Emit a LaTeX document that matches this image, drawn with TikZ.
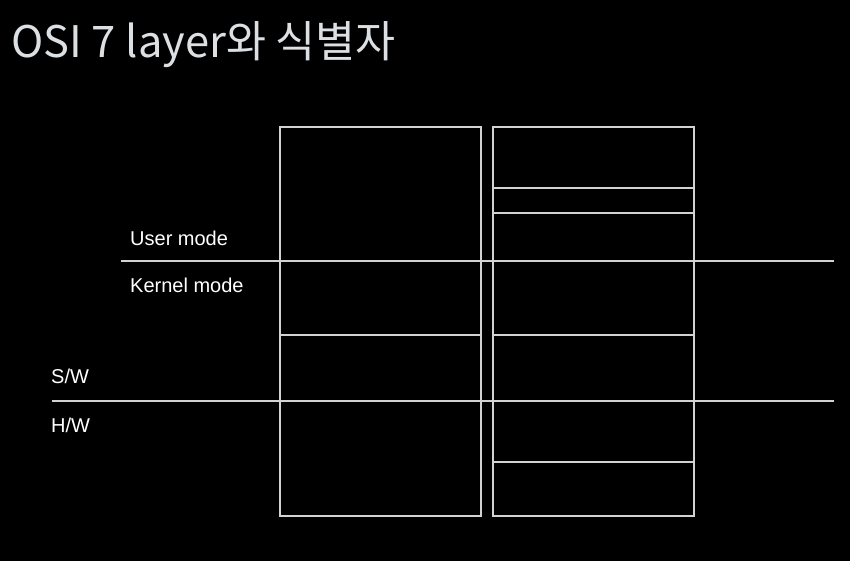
\documentclass[tikz,border=0pt]{standalone}
\usepackage{fontspec}
\setmainfont{Liberation Sans}
\newfontfamily\krfont{Noto Sans CJK KR}
\definecolor{gray200}{HTML}{D2D2D2}
\definecolor{titlegray}{HTML}{DCE0E3}
\tikzstyle{layerbox}=[draw=gray200, line width=1.6pt]
\tikzstyle{divider}=[draw=gray200, line width=1.6pt]
\tikzstyle{modetext}=[text=white, anchor=base west, inner sep=0pt, font=\fontsize{20}{22}\selectfont]
\tikzstyle{titletext}=[text=titlegray, anchor=base west, inner sep=0pt, font=\krfont\fontsize{43.5}{46}\selectfont]

\begin{document}
\begin{tikzpicture}[x=1pt, y=-1pt]
	\fill[black] (0,0) rectangle (850,561);
	\useasboundingbox (0,0) rectangle (850,561);
	\node[titletext] (title) at (11,58) {OSI 7 layer와 식별자};
	% left stack
	\draw[layerbox] (280,127) rectangle (481,516);
	\draw[divider] (280,335) -- (481,335);
	% right stack
	\draw[layerbox] (493,127) rectangle (694,516);
	\draw[divider] (493,188) -- (694,188);
	\draw[divider] (493,213) -- (694,213);
	\draw[divider] (493,335) -- (694,335);
	\draw[divider] (493,462) -- (694,462);
	% mode and s/w-h/w borders
	\coordinate (um1) at (121,261);
	\coordinate (um2) at (834,261);
	\coordinate (sh1) at (52,401);
	\coordinate (sh2) at (834,401);
	\draw[divider] (um1) -- (um2);
	\draw[divider] (sh1) -- (sh2);
	\node[modetext] (user) at (130,245) {User mode};
	\node[modetext] (kernel) at (130,292) {Kernel mode};
	\node[modetext] (sw) at (51,383) {S/W};
	\node[modetext] (hw) at (51,432) {H/W};
\end{tikzpicture}
\end{document}
